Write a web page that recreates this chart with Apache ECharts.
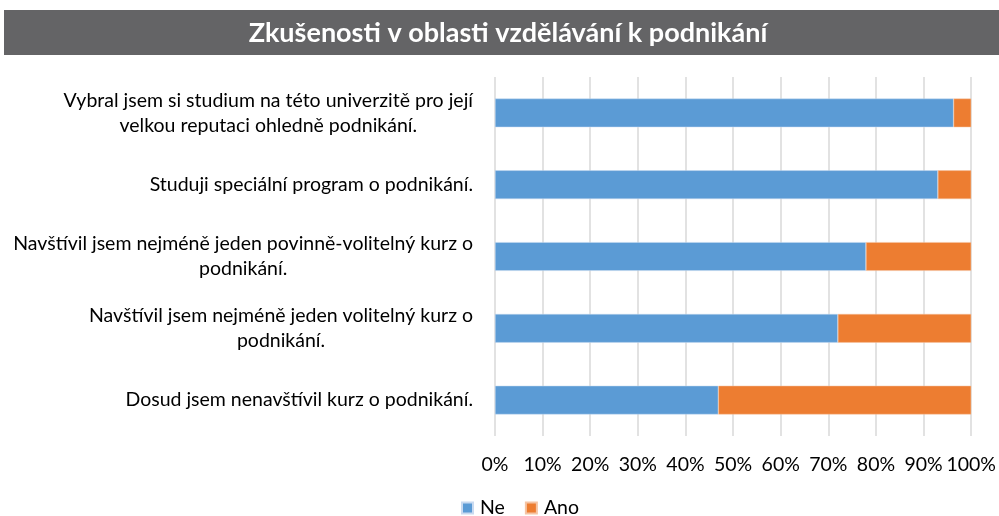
<!DOCTYPE html>
<html><head><meta charset="utf-8">
<script src="https://cdn.jsdelivr.net/npm/echarts@6/dist/echarts.min.js"></script>
<style>html,body{margin:0;padding:0;background:#fff}#c{width:999px;height:516px}</style>
</head><body><div id="c"></div>
<script>
const titleText = 'Zkušenosti v oblasti vzdělávání k podnikání';
const categories = [
  'Vybral jsem si studium na této univerzitě pro její\nvelkou reputaci ohledně podnikání.',
  'Studuji speciální program o podnikání.',
  'Navštívil jsem nejméně jeden povinně-volitelný kurz o\npodnikání.',
  'Navštívil jsem nejméně jeden volitelný kurz o\npodnikání.',
  'Dosud jsem nenavštívil kurz o podnikání.'
];
const seriesNames = ['Ne', 'Ano'];
const neValues = [96.3, 93.0, 77.9, 72.0, 46.9];
const anoValues = [3.7, 7.0, 22.1, 28.0, 53.1];

const chart = echarts.init(document.getElementById('c'));
const font = 'Lato, "Open Sans", sans-serif';
chart.setOption({
  animation: false,
  textStyle: { fontFamily: font },
  graphic: [{
    type: 'rect', shape: { x: 4, y: 10, width: 995, height: 45 },
    style: { fill: '#646466' }, z: 0
  }],
  title: {
    text: titleText, left: 503, top: 15, textAlign: 'center',
    textStyle: { color: '#ffffff', fontSize: 27, fontWeight: 'bold', fontFamily: font }
  },
  legend: {
    data: seriesNames, top: 493, left: 456, itemWidth: 11, itemHeight: 11,
    itemGap: 20, icon: 'rect',
    textStyle: { fontSize: 19.5, color: '#000', fontFamily: font, padding: [0, 0, 0, 2] }
  },
  grid: { left: 495, right: 24, top: 77, bottom: 80, containLabel: false },
  xAxis: {
    type: 'value', min: 0, max: 100, interval: 10,
    axisLabel: { formatter: '{value}%', fontSize: 19.5, color: '#000', margin: 19, fontFamily: font },
    splitLine: { show: true, lineStyle: { color: '#d9d9d9', width: 1.5 } },
    axisLine: { show: false }, axisTick: { show: false }
  },
  yAxis: {
    type: 'category', data: categories, inverse: true,
    axisLine: { show: false }, axisTick: { show: false },
    axisLabel: {
      margin: 22, align: 'right',
      formatter: v => v.split('\n').map(s => '{c|' + s + '}').join('\n'),
      rich: { c: { align: 'center', fontSize: 19.5, lineHeight: 25, color: '#000', fontFamily: font } }
    }
  },
  series: [
    { name: 'Ne', type: 'bar', stack: 'a', data: neValues, barCategoryGap: '60%',
      itemStyle: { color: '#5b9bd5', borderColor: '#c9daf0', borderWidth: 0.5 } },
    { name: 'Ano', type: 'bar', stack: 'a', data: anoValues, barCategoryGap: '60%',
      itemStyle: { color: '#ed7d31', borderColor: '#f5c4a4', borderWidth: 0.5 } }
  ]
});
</script></body></html>
